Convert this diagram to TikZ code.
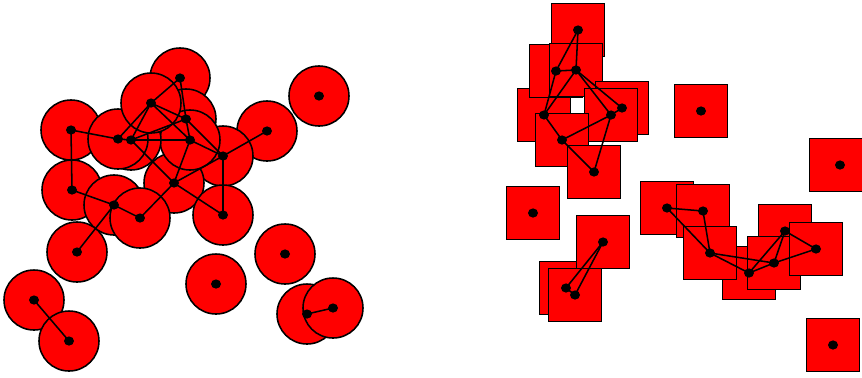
\documentclass[tikz,border=0pt]{standalone}
\usepackage{tikz}
\usetikzlibrary{positioning}
\tikzset{
  disk/.style={circle, draw=black, fill=red, line width=1.1pt, minimum size=1.5cm, inner sep=0pt},
  tile/.style={rectangle, draw=black, fill=red, line width=1.1pt, minimum size=1.325cm, inner sep=0pt},
  edge/.style={line width=1.1pt, black},
}

\begin{document}
\begin{tikzpicture}[x=0.025cm, y=-0.025cm]
  \useasboundingbox (0,0) rectangle (862,377);
  % unit disks
  \node[disk] (J) at (319,96)  {};
  \node[disk] (I) at (267,131) {};
  \node[disk] (A) at (180,78)  {};
  \node[disk] (D) at (71,130)  {};
  \node[disk] (C) at (186,119) {};
  \node[disk] (H) at (223,156) {};
  \node[disk] (N) at (174,183) {};
  \node[disk] (G) at (190,140) {};
  \node[disk] (F) at (131,140) {};
  \node[disk] (E) at (118,139) {};
  \node[disk] (B) at (151,103) {};
  \node[disk] (K) at (72,190)  {};
  \node[disk] (L) at (114,205) {};
  \node[disk] (M) at (140,218) {};
  \node[disk] (O) at (223,215) {};
  \node[disk] (P) at (77,252)  {};
  \node[disk] (T) at (285,254) {};
  \node[disk] (S) at (216,284) {};
  \node[disk] (Q) at (34,300)  {};
  \node[disk] (R) at (69,341)  {};
  \node[disk] (U) at (307,314) {};
  \node[disk] (V) at (333,308) {};
  % unit squares
  \node[tile] (a) at (578,30)  {};
  \node[tile] (d) at (544,115) {};
  \node[tile] (b) at (556,71)  {};
  \node[tile] (c) at (576,70)  {};
  \node[tile] (e) at (622,108) {};
  \node[tile] (f) at (611,115) {};
  \node[tile] (g) at (562,140) {};
  \node[tile] (h) at (594,172) {};
  \node[tile] (i) at (701,111) {};
  \node[tile] (j) at (836,165) {};
  \node[tile] (k) at (533,213) {};
  \node[tile] (m) at (566,288) {};
  \node[tile] (n) at (575,295) {};
  \node[tile] (l) at (603,242) {};
  \node[tile] (o) at (667,208) {};
  \node[tile] (p) at (703,211) {};
  \node[tile] (r) at (749,273) {};
  \node[tile] (q) at (710,253) {};
  \node[tile] (t) at (785,231) {};
  \node[tile] (s) at (774,263) {};
  \node[tile] (u) at (816,249) {};
  \node[tile] (v) at (833,345) {};
  % disk graph edges
  \draw[edge] (A.center) -- (B.center);
  \draw[edge] (A.center) -- (C.center);
  \draw[edge] (B.center) -- (C.center);
  \draw[edge] (B.center) -- (E.center);
  \draw[edge] (B.center) -- (F.center);
  \draw[edge] (B.center) -- (G.center);
  \draw[edge] (C.center) -- (F.center);
  \draw[edge] (C.center) -- (G.center);
  \draw[edge] (C.center) -- (H.center);
  \draw[edge] (D.center) -- (E.center);
  \draw[edge] (D.center) -- (K.center);
  \draw[edge] (E.center) -- (F.center);
  \draw[edge] (F.center) -- (G.center);
  \draw[edge] (F.center) -- (N.center);
  \draw[edge] (G.center) -- (H.center);
  \draw[edge] (G.center) -- (N.center);
  \draw[edge] (H.center) -- (I.center);
  \draw[edge] (H.center) -- (N.center);
  \draw[edge] (H.center) -- (O.center);
  \draw[edge] (N.center) -- (M.center);
  \draw[edge] (N.center) -- (O.center);
  \draw[edge] (K.center) -- (L.center);
  \draw[edge] (L.center) -- (M.center);
  \draw[edge] (L.center) -- (P.center);
  \draw[edge] (Q.center) -- (R.center);
  \draw[edge] (U.center) -- (V.center);
  % square graph edges
  \draw[edge] (a.center) -- (b.center);
  \draw[edge] (a.center) -- (c.center);
  \draw[edge] (b.center) -- (c.center);
  \draw[edge] (b.center) -- (d.center);
  \draw[edge] (c.center) -- (d.center);
  \draw[edge] (c.center) -- (e.center);
  \draw[edge] (c.center) -- (f.center);
  \draw[edge] (e.center) -- (f.center);
  \draw[edge] (d.center) -- (g.center);
  \draw[edge] (f.center) -- (g.center);
  \draw[edge] (g.center) -- (h.center);
  \draw[edge] (f.center) -- (h.center);
  \draw[edge] (l.center) -- (m.center);
  \draw[edge] (l.center) -- (n.center);
  \draw[edge] (m.center) -- (n.center);
  \draw[edge] (o.center) -- (p.center);
  \draw[edge] (o.center) -- (q.center);
  \draw[edge] (p.center) -- (q.center);
  \draw[edge] (q.center) -- (r.center);
  \draw[edge] (q.center) -- (s.center);
  \draw[edge] (r.center) -- (s.center);
  \draw[edge] (r.center) -- (t.center);
  \draw[edge] (s.center) -- (t.center);
  \draw[edge] (s.center) -- (u.center);
  \draw[edge] (t.center) -- (u.center);
  % centre dots
  \foreach \n in {A,B,C,D,E,F,G,H,I,J,K,L,M,N,O,P,Q,R,S,T,U,V,a,b,c,d,e,f,g,h,i,k,l,m,n,o,p,q,r,s,t,u,v}
    \fill (\n.center) ellipse [x radius=1.25mm, y radius=1.15mm];
  \fill ([xshift=0.1cm]j.center) ellipse [x radius=1.25mm, y radius=1.15mm];
\end{tikzpicture}
\end{document}
